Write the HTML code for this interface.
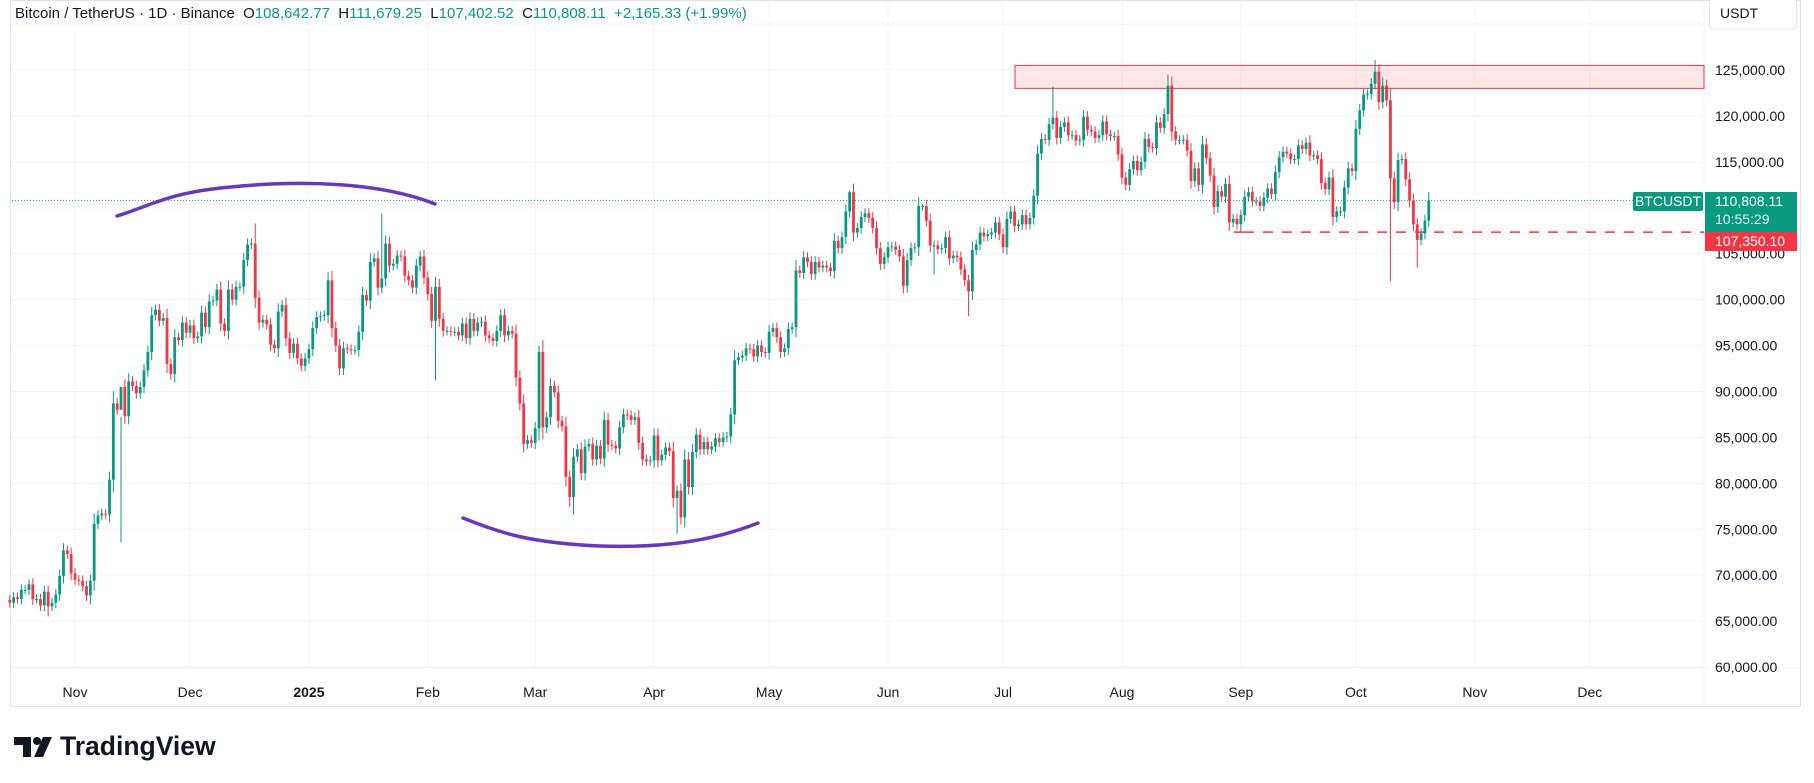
<!DOCTYPE html>
<html><head><meta charset="utf-8">
<style>
body{margin:0;background:#fff;width:1814px;height:783px;overflow:hidden;font-family:"Liberation Sans",sans-serif;}
svg{position:absolute;left:0;top:0}
</style></head>
<body>
<svg id="c" width="1814" height="783"></svg>
<script>
const startDate=Date.UTC(2024,9,15);
// daily closes (thousands USDT) Oct 15 2024 .. Oct 20 2025
const closes=[
67.0,67.6,67.4,68.4,68.4,69.0,67.4,67.4,66.7,68.2,66.6,67.0,67.9,69.9,72.7,72.3,70.2,
69.5,69.4,68.8,67.8,69.4,75.6,76.5,76.7,76.6,80.4,88.7,88.0,90.5,87.3,91.1,90.6,89.8,90.5,92.3,94.3,98.3,98.9,97.7,98.0,93.0,91.9,95.9,95.6,97.5,96.4,
97.2,95.8,96.0,98.6,97.0,99.8,99.9,101.1,97.4,96.6,101.1,100.0,101.4,101.4,104.3,106.0,106.1,100.2,97.5,97.8,97.3,95.1,94.7,98.7,99.4,95.8,94.2,95.2,93.6,92.8,93.6,
94.6,96.9,98.1,98.2,98.3,102.1,96.9,95.0,92.5,94.7,94.6,94.5,94.5,96.5,100.5,99.9,104.1,104.5,101.3,102.3,106.1,103.7,103.9,104.8,104.7,102.6,102.1,101.3,103.7,104.7,102.4,
100.6,97.7,101.4,97.9,96.6,96.6,96.5,96.5,96.1,97.4,95.8,97.9,96.6,97.5,97.6,96.1,95.8,95.5,96.6,98.3,96.1,96.6,96.3,91.5,88.7,84.3,84.7,84.4,
86.0,94.3,86.1,87.2,90.6,89.9,86.8,86.2,80.7,78.5,82.9,83.7,81.1,84.0,84.3,82.6,84.1,82.7,86.9,84.2,84.1,83.8,86.1,87.5,87.4,86.9,87.2,84.4,82.6,82.4,82.5,
85.2,82.5,83.1,83.9,83.5,78.4,79.2,76.3,82.6,79.6,83.4,85.3,83.7,84.5,83.7,84.0,84.9,84.5,85.0,85.1,87.5,93.4,93.7,93.9,94.7,94.6,93.8,95.0,94.3,94.2,
96.5,96.9,95.9,94.3,94.7,96.8,97.0,103.2,102.9,104.6,104.1,102.8,104.1,103.5,103.7,103.5,103.1,106.4,105.6,106.8,109.6,111.7,107.3,107.8,109.0,109.4,108.9,107.8,105.6,103.9,104.6,
105.7,105.8,105.4,104.7,101.5,104.3,105.6,105.7,110.2,110.2,108.6,105.9,105.9,105.5,105.6,106.8,104.5,104.8,104.6,103.3,102.1,100.9,105.4,106.0,107.3,106.9,107.1,107.3,108.4,107.1,
105.7,108.8,109.6,108.0,108.2,109.2,108.2,108.9,111.3,115.9,117.5,117.4,119.1,119.8,117.6,118.8,119.3,117.9,117.9,117.3,117.4,119.9,118.5,118.3,117.6,117.9,119.4,118.0,117.8,117.8,115.8,
113.3,112.5,114.2,115.1,114.1,115.0,117.5,116.6,116.5,119.3,118.7,120.2,123.3,118.3,117.4,117.4,117.4,116.2,112.9,114.3,112.5,116.9,115.4,113.5,110.1,111.8,111.2,112.6,108.4,108.8,108.2,
109.2,111.2,111.7,110.7,110.7,110.2,111.1,112.1,111.5,113.9,115.5,116.1,115.9,115.3,115.3,116.8,116.4,117.1,115.7,115.7,115.3,112.7,112.0,113.3,109.0,109.6,109.6,112.2,114.3,114.0,
118.6,120.6,122.3,122.4,123.5,124.8,121.5,123.3,121.7,113.2,110.6,115.2,115.3,113.1,110.8,108.2,106.5,107.2,108.6,110.8];
// notable wick extremes: [dayIndex, price]
const wickHighs=[[29,73.6],[64,108.3],[97,109.4],[111,102.5],[138,95.0],[219,111.9],[238,110.4],[272,123.2],[302,124.5],[339,117.9],[356,126.1],[358,124.2],[362,116.0],[370,111.7]];
const wickLows=[[10,65.5],[21,66.8],[111,91.2],[146,77.4],[147,76.6],[174,74.5],[241,102.7],[250,98.2],[321,107.3],[360,102.0],[367,103.5]];
const priceTicks=[125,120,115,110,105,100,95,90,85,80,75,70,65,60];
const monthLabels=["Nov","Dec","2025","Feb","Mar","Apr","May","Jun","Jul","Aug","Sep","Oct","Nov","Dec"];
const monthDates=[[2024,10],[2024,11],[2025,0],[2025,1],[2025,2],[2025,3],[2025,4],[2025,5],[2025,6],[2025,7],[2025,8],[2025,9],[2025,10],[2025,11]];

const NS="http://www.w3.org/2000/svg";
const svg=document.getElementById('c');
function el(t,a,p){const e=document.createElementNS(NS,t);for(const k in a)e.setAttribute(k,a[k]);(p||svg).appendChild(e);return e;}
const X0=75, PXD=3.835, IDX0=17;
function xDay(i){return X0+(i-IDX0)*PXD;}
function xDate(y,m){return xDay((Date.UTC(y,m,1)-startDate)/86400000);}
function yP(p){return 70+(125-p)*9.185;}
const PL=12,PR=1704,PT=0,PB=706;

let f=el('rect',{x:10.5,y:0.5,width:1790,height:706,fill:'#fff',stroke:'#e0e3eb'});

priceTicks.concat([130]).forEach(p=>{const l=el('line',{x1:PL,x2:PR,y1:yP(p),y2:yP(p),stroke:'#f0f3fa','stroke-width':1});
});
monthDates.forEach(d=>{const x=xDate(d[0],d[1]);const l=el('line',{x1:x,x2:x,y1:0,y2:668,stroke:'#f0f3fa','stroke-width':1});
});
el('line',{x1:PR,x2:PR,y1:0,y2:PB,stroke:'#f0f3fa'});
el('line',{x1:PL,x2:1800,y1:668,y2:668,stroke:'#f0f3fa'});

let rb=el('rect',{x:1015,y:yP(125.5),width:PR-1015,height:yP(123)-yP(125.5),fill:'rgba(242,54,69,0.12)',stroke:'#f23645','stroke-width':1});


let cp=el('line',{x1:PL,x2:1633,y1:yP(110.808),y2:yP(110.808),stroke:'#089981','stroke-width':1,'stroke-dasharray':'1 2'});


const g=el('g',{});
const hmap={},lmap={};wickHighs.forEach(w=>hmap[w[0]]=w[1]);wickLows.forEach(w=>lmap[w[0]]=w[1]);
closes.forEach((c,i)=>{
  const o=i===0?67.3:closes[i-1];
  const up=c>=o;const col=up?'#089981':'#f23645';
  const top=Math.max(o,c),bot=Math.min(o,c);
  const body=top-bot;
  const h=hmap[i]!==undefined?hmap[i]:top+0.5+body*0.1;
  const l=lmap[i]!==undefined?lmap[i]:bot-0.5-body*0.1;
  const x=xDay(i);
  const w=el('line',{x1:x,x2:x,y1:yP(h),y2:yP(l),stroke:col,'stroke-width':1},g);
  
  const b=el('rect',{x:x-1.4,y:yP(top),width:2.8,height:Math.max(1,yP(bot)-yP(top)),fill:col},g);
  
});

let sl=el('line',{x1:1234,x2:1244,y1:yP(107.35),y2:yP(107.35),stroke:'#f23645','stroke-width':1.5});

let sd=el('line',{x1:1244,x2:PR,y1:yP(107.35),y2:yP(107.35),stroke:'#f23645','stroke-width':1.5,'stroke-dasharray':'10 9'});


let a1=el('path',{d:'M117,216 C150,206 170,192 231,187 C300,180 380,182 435,204',fill:'none',stroke:'#673ab7','stroke-width':3.5,'stroke-linecap':'round'});

let a2=el('path',{d:'M463,518 C500,533 530,543 600,546 C660,548 710,542 758,523',fill:'none',stroke:'#673ab7','stroke-width':3.5,'stroke-linecap':'round'});


priceTicks.forEach(p=>{const t=el('text',{x:1715,y:yP(p)+5,'font-size':14,fill:'#131722'});
t.textContent=(p*1000).toLocaleString('en-US')+'.00';
});
monthDates.forEach((d,i)=>{const t=el('text',{x:xDate(d[0],d[1]),y:697,'font-size':14,fill:'#131722','text-anchor':'middle','font-weight':monthLabels[i]==='2025'?'bold':'normal'});
t.textContent=monthLabels[i];});

let bl=el('rect',{x:1633,y:192,width:70,height:19,fill:'#089981',rx:2});
let bt=el('text',{x:1668,y:206,'font-size':14,fill:'#fff','text-anchor':'middle'});bt.textContent='BTCUSDT';
let pl=el('rect',{x:1705,y:192,width:92,height:40,fill:'#089981'});
let pt=el('text',{x:1715,y:206,'font-size':14,fill:'#fff'});pt.textContent='110,808.11';
let ct=el('text',{x:1715,y:224,'font-size':14,fill:'#e0f2ef'});ct.textContent='10:55:29';
let rl=el('rect',{x:1705,y:232,width:92,height:19,fill:'#f23645'});
let rt=el('text',{x:1715,y:246,'font-size':14,fill:'#fff'});rt.textContent='107,350.10';
let ub=el('rect',{x:1709.5,y:-4,width:87,height:33,rx:4,fill:'#fff',stroke:'#e0e3eb'});
let ut=el('text',{x:1720,y:18,'font-size':14,fill:'#131722'});ut.textContent='USDT';

let ht=el('text',{x:15,y:18,'font-size':15,fill:'#131722'});
const NB='\u00a0';
[['Bitcoin / TetherUS · 1D · Binance'+NB+NB,'#131722'],['O','#131722'],['108,642.77'+NB+NB,'#089981'],['H','#131722'],['111,679.25'+NB+NB,'#089981'],['L','#131722'],['107,402.52'+NB+NB,'#089981'],['C','#131722'],['110,808.11'+NB+NB+'+2,165.33 (+1.99%)','#089981']].forEach(s=>{const ts=el('tspan',{fill:s[1]},ht);ts.textContent=s[0];});

let lg=el('g',{});
el('path',{d:'M14,737 h17 v20 h-8 v-12 h-9z',fill:'#131722'},lg);
el('circle',{cx:37,cy:741,r:4,fill:'#131722'},lg);
el('path',{d:'M43,737 h9 l-9 20 h-9z',fill:'#131722'},lg);
let lt=el('text',{x:60,y:755,'font-size':26.5,'font-weight':'bold',fill:'#131722'},lg);lt.textContent='TradingView';
</script>
</body></html>
